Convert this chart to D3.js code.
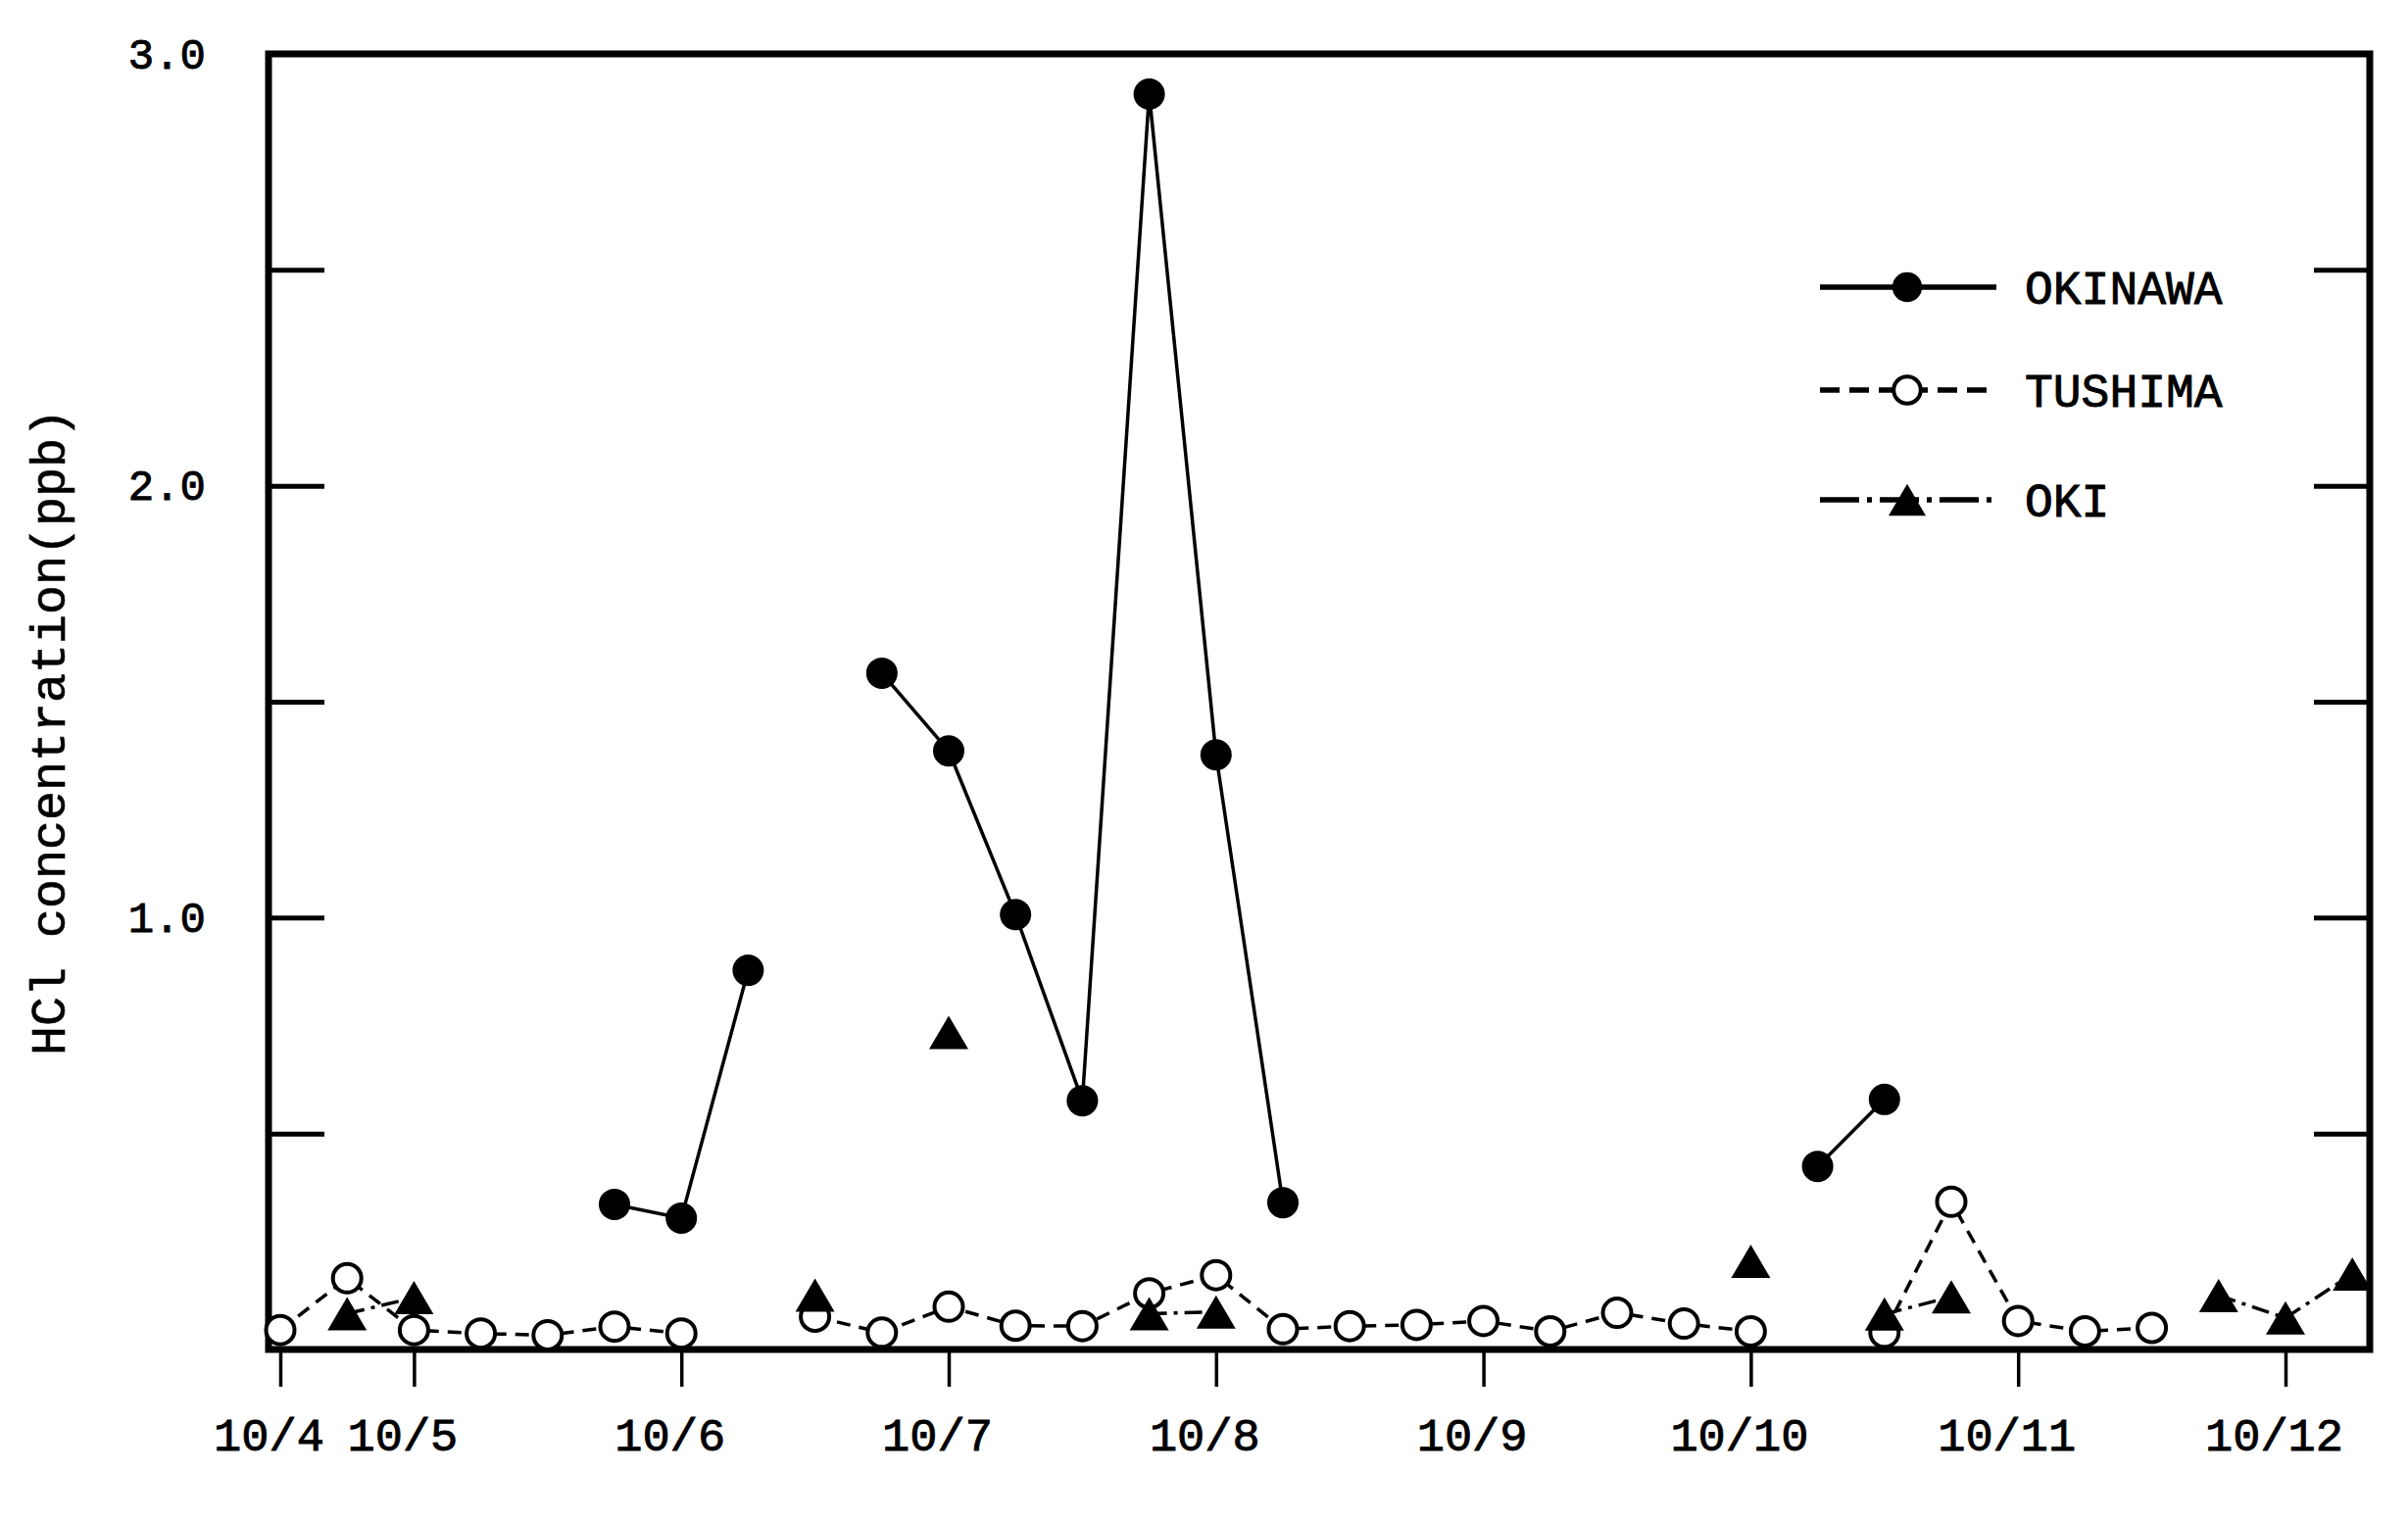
<!DOCTYPE html>
<html><head><meta charset="utf-8">
<script src="https://cdn.jsdelivr.net/npm/d3@7"></script>
<style>html,body{margin:0;padding:0;background:#fff;} svg{display:block}</style>
</head><body>
<script>
// ---- data ----
const times = [4,4.5,5,5.25,5.5,5.75,6,6.25,6.5,6.75,7,7.25,7.5,7.75,8,8.25,8.5,8.75,9,9.25,9.5,9.75,10,10.25,10.5,10.75,11,11.25,11.5,11.75,12,12.25];
const okinawa = [null,null,null,null,null,0.336,0.304,0.878,null,1.566,1.386,1.007,0.576,2.907,1.377,0.340,null,null,null,null,null,null,null,0.424,0.579,null,null,null,null,null,null,null];
const tushima = [0.045,0.165,0.045,0.037,0.033,0.053,0.037,null,0.076,0.039,0.099,0.055,0.054,0.130,0.172,0.047,0.054,0.057,0.066,0.042,0.085,0.060,0.042,null,0.039,0.342,0.066,0.042,0.050,null,null,null];
const oki = [null,0.083,0.120,null,null,null,null,null,0.126,null,0.734,null,null,0.083,0.087,null,null,null,null,null,null,null,0.204,null,0.082,0.122,null,null,null,0.125,0.073,0.175];
const tickDays = [4,5,6,7,8,9,10,11,12];
const tickLabels = ["10/4","10/5","10/6","10/7","10/8","10/9","10/10","10/11","10/12"];
const yTicks = [0.5,1.0,1.5,2.0,2.5,3.0];
const yLabelled = [1.0,2.0,3.0];
const seriesNames = ["OKINAWA","TUSHIMA","OKI"];
const yTitle = "HCl concentration(ppb)";

// ---- layout ----
const W = 2457, H = 1551;
const L = 274, R = 2418, T = 55, B = 1377;
const X4 = 286, SLOT = 68.2; // first day sampled twice, later days four times
const FONT = "'Liberation Mono','DejaVu Sans Mono',monospace";

const svg = d3.select("body").append("svg").attr("width", W).attr("height", H)
  .style("background", "#fff");

const x = d3.scaleLinear().domain([4, 5, 12]).range([X4, X4 + 2 * SLOT, X4 + 30 * SLOT]);
const y = d3.scaleLinear().domain([0, 3]).range([B, T]);

const textStyle = sel => sel.attr("font-family", FONT).attr("fill", "#000")
  .attr("stroke", "#000").attr("stroke-width", 0.9);

// left axis
const gL = svg.append("g").attr("transform", `translate(${L},0)`)
  .call(d3.axisLeft(y).tickValues(yTicks).tickSize(-57).tickPadding(64)
    .tickFormat(d => yLabelled.includes(d) ? d.toFixed(1) : ""));
gL.select(".domain").remove();
gL.selectAll(".tick line").attr("stroke", "#000").attr("stroke-width", 5);
gL.selectAll(".tick text").call(textStyle).attr("font-size", 44);

// right axis
const gR = svg.append("g").attr("transform", `translate(${R},0)`)
  .call(d3.axisRight(y).tickValues(yTicks.filter(d => d < 3)).tickSize(-57).tickFormat(""));
gR.select(".domain").remove();
gR.selectAll(".tick line").attr("stroke", "#000").attr("stroke-width", 5);

// bottom axis
const gB = svg.append("g").attr("transform", `translate(0,${B})`)
  .call(d3.axisBottom(x).tickValues(tickDays).tickSize(38).tickFormat((d, i) => tickLabels[i]));
gB.select(".domain").remove();
gB.selectAll(".tick line").attr("stroke", "#000").attr("stroke-width", 3.5);
gB.selectAll(".tick text").call(textStyle).attr("font-size", 47)
  .attr("y", 103).attr("dy", 0).attr("dx", -12);

// frame
svg.append("rect").attr("x", L).attr("y", T).attr("width", R - L).attr("height", B - T)
  .attr("fill", "none").attr("stroke", "#000").attr("stroke-width", 7);

// y title
svg.append("text").attr("transform", `translate(66,747) rotate(-90)`)
  .attr("text-anchor", "middle").call(textStyle).attr("stroke-width", 0.6)
  .attr("font-size", 50).text(yTitle);

// series
const series = [
  { name: seriesNames[0], vals: okinawa, dash: null, legDash: null, marker: "dot" },
  { name: seriesNames[1], vals: tushima, dash: "14,9", legDash: "20,10", marker: "open" },
  { name: seriesNames[2], vals: oki, dash: "18,7,4,7", legDash: "40,8,5,8", marker: "tri" }
];

const line = d3.line().defined(d => d.v !== null).x(d => x(d.t)).y(d => y(d.v));
const triPath = (w, h) => `M0,${-h / 2}L${w / 2},${h / 2}L${-w / 2},${h / 2}Z`;

series.forEach(s => {
  const pts = times.map((t, i) => ({ t, v: s.vals[i] }));
  svg.append("path").datum(pts).attr("d", line).attr("fill", "none")
    .attr("stroke", "#000").attr("stroke-width", 3.5)
    .attr("stroke-dasharray", s.dash);
  s.pts = pts.filter(d => d.v !== null);
});

function drawMarker(g, type, scale) {
  if (type === "dot") g.append("circle").attr("r", 16 * scale).attr("fill", "#000");
  else if (type === "open") g.append("circle").attr("r", 14.5 * scale).attr("fill", "#fff")
    .attr("stroke", "#000").attr("stroke-width", 4);
  else g.append("path").attr("d", triPath(40 * scale, 34 * scale)).attr("fill", "#000");
}

// markers: open circles first, then triangles, then dots
["open", "tri", "dot"].forEach(type => {
  series.filter(s => s.marker === type).forEach(s => {
    svg.selectAll(null).data(s.pts).enter().append("g")
      .attr("transform", d => `translate(${x(d.t)},${y(d.v)})`)
      .each(function () { drawMarker(d3.select(this), type, 1); });
  });
});

// legend
const legY = [293, 398, 510];
series.forEach((s, i) => {
  const g = svg.append("g").attr("transform", `translate(0,${legY[i]})`);
  g.append("line").attr("x1", 1857).attr("x2", 2037).attr("y1", 0).attr("y2", 0)
    .attr("stroke", "#000").attr("stroke-width", 5.5)
    .attr("stroke-dasharray", s.legDash);
  const m = g.append("g").attr("transform", "translate(1946,0)");
  drawMarker(m, s.marker, 0.95);
  g.append("text").attr("x", 2066).attr("y", 0).attr("dy", "0.36em")
    .call(textStyle).attr("font-size", 48).text(s.name);
});
</script>
</body></html>
